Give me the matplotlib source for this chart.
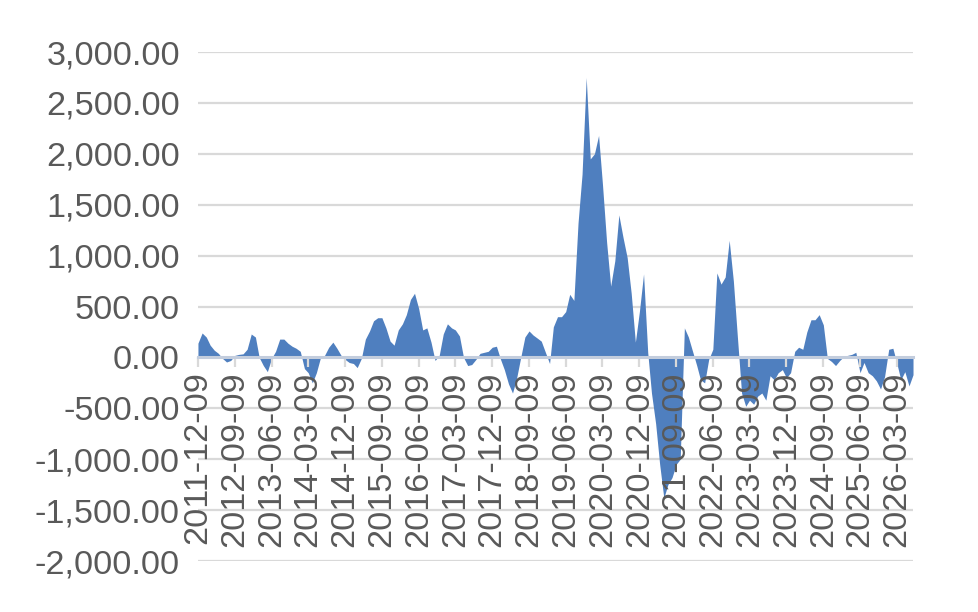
import pandas as pd
import numpy as np
import matplotlib
matplotlib.use("Agg")
import matplotlib.pyplot as plt
from matplotlib.ticker import FuncFormatter

plt.rcParams['font.family'] = ['Liberation Sans', 'DejaVu Sans']

# Monthly values, starting 2011-12-09
values = [
    140, 240, 200, 120, 70, 40, -10, -45, -30, 20,
    30, 35, 80, 230, 200, 0, -80, -140, -10, 60,
    180, 180, 140, 110, 90, 60, -110, -150, -250, -150,
    0, 20, 100, 150, 90, 20, -20, -50, -60, -100,
    -10, 180, 260, 360, 390, 390, 290, 160, 120, 270,
    330, 420, 570, 630, 480, 270, 290, 150, -30, 20,
    230, 330, 290, 270, 210, 0, -80, -70, -20, 40,
    50, 60, 100, 110, -20, -120, -260, -350, -200, 0,
    200, 260, 220, 190, 160, 50, -60, 300, 400, 400,
    450, 620, 560, 1320, 1800, 2750, 1950, 2000, 2180, 1700,
    1130, 700, 950, 1400, 1180, 980, 630, 150, 450, 820,
    50, -350, -650, -1050, -1380, -1250, -1180, -1050, -1000, 290,
    200, 60, -80, -220, -250, -20, 80, 830, 720, 790,
    1150, 750, 200, -350, -480, -420, -460, -380, -350, -420,
    -180, -220, -150, -120, -200, -150, 60, 100, 80, 250,
    370, 370, 420, 320, -10, -40, -80, -30, 10, 20,
    30, 50, -150, -50, -150, -180, -230, -310, -190, 80,
    90, -50, -220, -140, -280, -170,
]
dates = pd.date_range('2011-12-09', periods=len(values), freq=pd.DateOffset(months=1))
y_ticks = [-2000, -1500, -1000, -500, 0, 500, 1000, 1500, 2000, 2500, 3000]

fig = plt.figure(figsize=(9.79, 6.12), dpi=100)
ax = fig.add_axes([0.2022, 0.0833, 0.7304, 0.8317])

ax.fill_between(dates, values, 0, color='#4F7FBF', linewidth=0, zorder=1)

# gridlines behind the area
for t in y_ticks:
    if t != 0:
        ax.axhline(t, color='#D9D9D9', linewidth=1.6, zorder=0)

ax.set_ylim(-2000, 3000)
ax.set_xlim(dates[0], dates[-1])
ax.set_yticks(y_ticks)
ax.yaxis.set_major_formatter(FuncFormatter(lambda v, p: '{:,.2f}'.format(v)))

tick_dates = dates[::9]
ax.set_xticks(tick_dates)
ax.set_xticklabels([d.strftime('%Y-%m-%d') for d in tick_dates])

for s in ['top', 'right', 'left']:
    ax.spines[s].set_visible(False)
ax.spines['bottom'].set_position(('data', 0))
ax.spines['bottom'].set_color('#C3CDDD')
ax.spines['bottom'].set_linewidth(2.2)

ax.tick_params(axis='y', length=0, pad=13, labelsize=24.7, labelcolor='#595959')
ax.tick_params(axis='x', length=7, width=1.6, color='#D9D9D9', direction='out',
               pad=3, labelsize=24.7, labelcolor='#595959', labelrotation=90)

fig.savefig('out.png', dpi=100)
